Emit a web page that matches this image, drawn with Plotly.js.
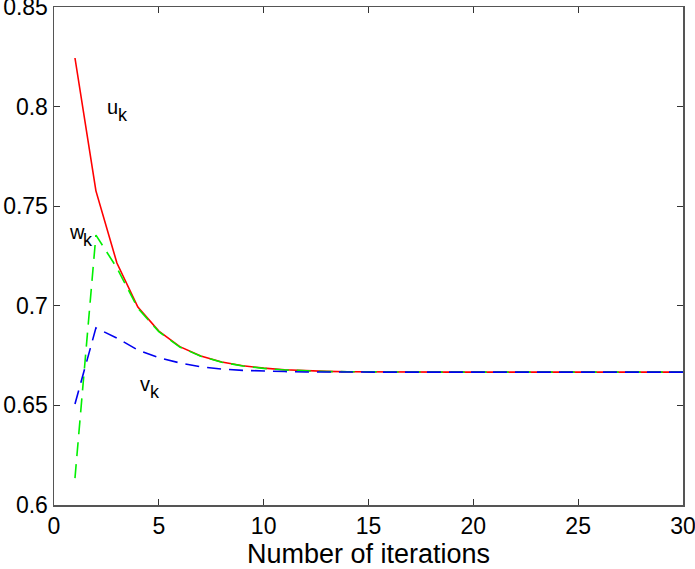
<!DOCTYPE html>
<html>
<head>
<meta charset="utf-8">
<script src="https://cdn.plot.ly/plotly-3.0.1.min.js"></script>
<style>html,body{margin:0;padding:0;background:#fff;}#chart{width:695px;height:569px;}</style>
</head>
<body>
<div id="chart"></div>
<script>
const iterations = [1,2,3,4,5,6,7,8,9,10,11,12,13,14,15,16,17,18,19,20,21,22,23,24,25,26,27,28,29,30];
const uValues = [0.8244,0.7577,0.7215,0.6994,0.6873,0.6795,0.6748,0.6718,0.6699,0.6687,0.6679,0.6674,0.6671,0.6669,0.6668,0.6667,0.6667,0.6667,0.6667,0.6667,0.6667,0.6667,0.6667,0.6667,0.6667,0.6667,0.6667,0.6667,0.6667,0.6667];
const wValues = [0.6135,0.7355,0.7190,0.6988,0.6870,0.6793,0.6747,0.6717,0.6698,0.6686,0.6678,0.6673,0.6670,0.6669,0.6668,0.6667,0.6667,0.6667,0.6667,0.6667,0.6667,0.6667,0.6667,0.6667,0.6667,0.6667,0.6667,0.6667,0.6667,0.6667];
const vValues = [0.6507,0.6889,0.6838,0.6778,0.6740,0.6713,0.6694,0.6682,0.6676,0.6672,0.6670,0.6668,0.6667,0.6667,0.6667,0.6667,0.6667,0.6667,0.6667,0.6667,0.6667,0.6667,0.6667,0.6667,0.6667,0.6667,0.6667,0.6667,0.6667,0.6667];
const seriesBase = ["u", "w", "v"];
const seriesSub = "k";
const labelX = [2.43, 0.62, 4.01];
const labelY = [0.7998, 0.7370, 0.6607];
const xTicks = [0,5,10,15,20,25,30];
const yTicks = [0.6,0.65,0.7,0.75,0.8,0.85];
const yTickText = ["0.6","0.65","0.7","0.75","0.8","0.85"];

const font = "Liberation Sans, Arial, Helvetica, sans-serif";
const baseSize = 20, subSize = 18;
const baseWidths = [0.556, 0.722, 0.5];

const traces = [
  {x: iterations, y: uValues, type: "scatter", mode: "lines", line: {color: "#ff0000", width: 1.6}},
  {x: iterations, y: wValues, type: "scatter", mode: "lines", line: {color: "#00f000", width: 1.6, dash: "14px,8px"}},
  {x: iterations, y: vValues, type: "scatter", mode: "lines", line: {color: "#0000f0", width: 1.6, dash: "14px,8px"}}
];

const annotations = [];
seriesBase.forEach((t, i) => {
  annotations.push({
    x: labelX[i], y: labelY[i], xref: "x", yref: "y", text: t, showarrow: false,
    xanchor: "left", yanchor: "middle", font: {family: font, size: baseSize, color: "#000"}
  });
  annotations.push({
    x: labelX[i], y: labelY[i], xref: "x", yref: "y", text: seriesSub, showarrow: false,
    xanchor: "left", yanchor: "middle", xshift: baseWidths[i] * baseSize, yshift: -8,
    font: {family: font, size: subSize, color: "#000"}
  });
});

const layout = {
  width: 695, height: 569,
  margin: {l: 54, r: 12, t: 7, b: 64},
  paper_bgcolor: "#fff", plot_bgcolor: "#fff",
  showlegend: false,
  font: {family: font, color: "#000"},
  xaxis: {
    range: [0, 30], tickvals: xTicks, ticktext: xTicks.map(String),
    ticks: "inside", ticklen: 6, tickcolor: "#333", tickwidth: 1,
    showline: true, linecolor: "#555", linewidth: 1.5, mirror: "ticks",
    showgrid: false, zeroline: false, ticklabeloverflow: "allow",
    tickfont: {family: font, size: 23},
    title: {text: "Number of iterations", font: {family: font, size: 27}, standoff: 13}
  },
  yaxis: {
    range: [0.6, 0.85], tickvals: yTicks, ticktext: yTickText,
    ticks: "inside", ticklen: 6, tickcolor: "#333", tickwidth: 1,
    showline: true, linecolor: "#555", linewidth: 1.5, mirror: "ticks",
    showgrid: false, zeroline: false, ticklabeloverflow: "allow",
    tickfont: {family: font, size: 23}
  },
  annotations: annotations
};

Plotly.newPlot("chart", traces, layout, {staticPlot: true, displayModeBar: false});
</script>
</body>
</html>
